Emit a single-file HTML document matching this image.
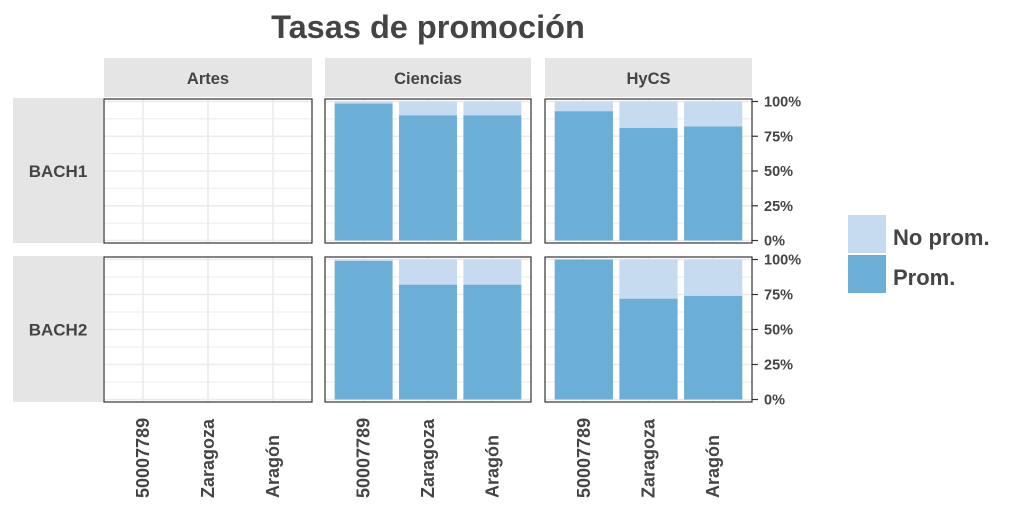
<!DOCTYPE html>
<html><head><meta charset="utf-8"><style>
body{margin:0;background:#fff;font-family:"Liberation Sans",sans-serif;}
</style></head><body>
<svg id="c" width="1024" height="512" xmlns="http://www.w3.org/2000/svg" font-family="Liberation Sans, sans-serif">
<text x="428" y="38" text-anchor="middle" font-size="32.5" font-weight="bold" fill="#444">Tasas de promoción</text>
</svg>
<script>
const categories=["50007789","Zaragoza","Aragón"];
const facets=["Artes","Ciencias","HyCS"];
const rowsLab=["BACH1","BACH2"];
const promArtes1=[null,null,null];
const promCiencias1=[98.5,90,90];
const promHyCS1=[93,81,82];
const promArtes2=[null,null,null];
const promCiencias2=[99,82,82];
const promHyCS2=[100,72,74];
const yTicks=[0,25,50,75,100];
const yTickLabels=["0%","25%","50%","75%","100%"];
const data=[[promArtes1,promCiencias1,promHyCS1],[promArtes2,promCiencias2,promHyCS2]];
const svg=document.getElementById('c');
const NS="http://www.w3.org/2000/svg";
function mk(t,a,p){const e=document.createElementNS(NS,t);for(const k in a)e.setAttribute(k,a[k]);(p||svg).appendChild(e);return e;}
const colX=[[104,312],[325,531],[545,752]];
const rowY=[[99,243],[257,402]];
function yScale(r,v){const t=rowY[r][0]+2.5,b=rowY[r][1]-2.5;return b-(b-t)*v/100;}
function xScale(c,i){const [a,b]=colX[c];const u=(b-a)/3.2;return a+(i+1-0.4)*u;}
facets.forEach((f,c)=>{
 const s=mk('rect',{x:colX[c][0],y:58,width:colX[c][1]-colX[c][0],height:39,fill:'#e5e5e5'});
 
 
 const t=mk('text',{x:(colX[c][0]+colX[c][1])/2,y:84,'text-anchor':'middle','font-size':16.5,'font-weight':'bold',fill:'#444'});t.textContent=f;
 
 
});
rowsLab.forEach((l,r)=>{
 const s=mk('rect',{x:13,y:rowY[r][0]-1,width:90,height:rowY[r][1]-rowY[r][0]+1,fill:'#e5e5e5'});
 
 
 const t=mk('text',{x:58,y:(rowY[r][0]+rowY[r][1])/2+6,'text-anchor':'middle','font-size':17,'font-weight':'bold',fill:'#444'});t.textContent=l;
 
 
});
for(let r=0;r<2;r++)for(let c=0;c<3;c++){
 const g=mk('g',{});
 
 
 const [x0,x1]=colX[c],[y0,y1]=rowY[r];
 mk('rect',{x:x0,y:y0,width:x1-x0,height:y1-y0,fill:'#fff'},g);
 for(let v=0;v<=100;v+=12.5){const y=yScale(r,v);mk('line',{x1:x0,x2:x1,y1:y,y2:y,stroke:'#ebebeb','stroke-width':v%25?1:1.6},g);}
 categories.forEach((_,i)=>{const x=xScale(c,i);mk('line',{x1:x,x2:x,y1:y0,y2:y1,stroke:'#ebebeb','stroke-width':1.6},g);});
 const bw=0.9*(x1-x0)/3.2;
 data[r][c].forEach((v,i)=>{
  if(v==null)return;
  const x=xScale(c,i)-bw/2;
  const n=mk('rect',{x:x,y:yScale(r,100),width:bw,height:yScale(r,v)-yScale(r,100),fill:'#c6dbef'},g);
  
  
  const p=mk('rect',{x:x,y:yScale(r,v),width:bw,height:yScale(r,0)-yScale(r,v),fill:'#6baed6'},g);
  
  
 });
 mk('rect',{x:x0,y:y0,width:x1-x0,height:y1-y0,fill:'none',stroke:'#333','stroke-width':1.2},g);
 if(c===2){yTicks.forEach((v,k)=>{const y=yScale(r,v);
  mk('line',{x1:x1,x2:x1+6,y1:y,y2:y,stroke:'#333','stroke-width':1.2},g);
  const t=mk('text',{x:x1+12,y:y+5,'font-size':14.5,'font-weight':'bold',fill:'#444'},g);t.textContent=yTickLabels[k];
  
  });}
 if(r===1){categories.forEach((cat,i)=>{const x=xScale(c,i);
  const t=mk('text',{x:0,y:0,'text-anchor':'start','font-size':18,'font-weight':'bold',fill:'#444',transform:`translate(${x+6},498) rotate(-90)`},g);t.textContent=cat;
  
  });}
}
const lg=mk('g',{});


mk('rect',{x:848,y:215,width:38,height:38,fill:'#c6dbef'},lg);
mk('rect',{x:848,y:255,width:38,height:38,fill:'#6baed6'},lg);
const l1=mk('text',{x:893,y:245,'font-size':22,'font-weight':'bold',fill:'#444'},lg);l1.textContent='No prom.';


const l2=mk('text',{x:893,y:285,'font-size':22,'font-weight':'bold',fill:'#444'},lg);l2.textContent='Prom.';


</script>
</body></html>
